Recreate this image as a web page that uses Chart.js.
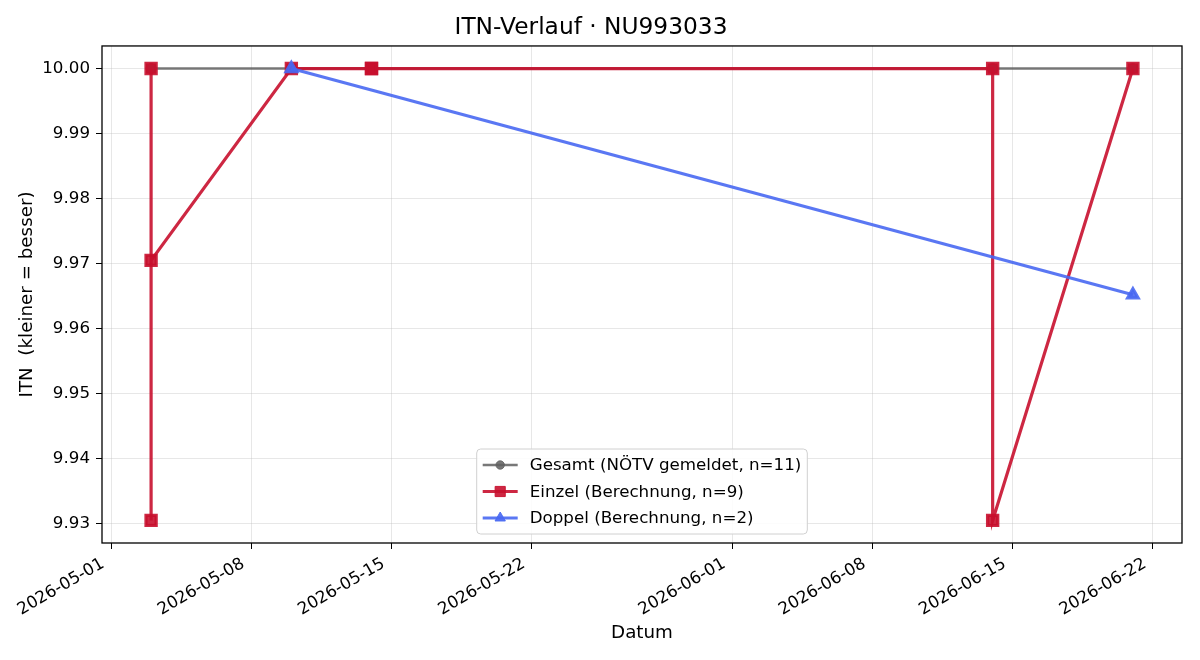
<!DOCTYPE html>
<html>
<head>
<meta charset="utf-8">
<script src="https://cdn.jsdelivr.net/npm/chart.js@4.4.1/dist/chart.umd.min.js"></script>
<style>
html,body{margin:0;padding:0;background:#fff}
</style>
</head>
<body>
<canvas id="itnChart" width="1200" height="660"></canvas>
<script>
// ===== Daten =====
const gesamtDates = ["2026-05-03","2026-05-03","2026-05-03","2026-05-10","2026-05-10","2026-05-14","2026-05-14","2026-06-14","2026-06-14","2026-06-21","2026-06-21"]
const gesamtITN   = [10.00,10.00,10.00,10.00,10.00,10.00,10.00,10.00,10.00,10.00,10.00]

const einzelDates = ["2026-05-03","2026-05-03","2026-05-03","2026-05-10","2026-05-14","2026-05-14","2026-06-14","2026-06-14","2026-06-21"]
const einzelITN   = [10.00,9.9305,9.9705,10.00,10.00,10.00,10.00,9.9305,10.00]

const doppelDates = ["2026-05-10","2026-06-21"]
const doppelITN   = [10.00,9.9652]

const xTickLabels = ["2026-05-01","2026-05-08","2026-05-15","2026-05-22","2026-06-01","2026-06-08","2026-06-15","2026-06-22"]
const yTicks = [9.93,9.94,9.95,9.96,9.97,9.98,9.99,10.00]

const labels = ["Gesamt (NÖTV gemeldet, n=11)","Einzel (Berechnung, n=9)","Doppel (Berechnung, n=2)"]

const FONT = "DejaVu Sans"

// Datum -> Tage
function day(s){
  return Date.UTC(+s.slice(0,4), +s.slice(5,7)-1, +s.slice(8,10)) / 864e5
}
function toPoints(dates, vals){
  return dates.map((d,i) => ({x: day(d), y: vals[i]}))
}

// Achsengrenzen mit 5% Rand (wie matplotlib)
let allX = [...gesamtDates, ...einzelDates, ...doppelDates].map(day)
let allY = [...gesamtITN, ...einzelITN, ...doppelITN]
let xMin = Math.min(...allX), xMax = Math.max(...allX)
let yMin = Math.min(...allY), yMax = Math.max(...allY)
let xPad = (xMax - xMin) * 0.05, yPad = (yMax - yMin) * 0.05

// ===== Rahmen + Legende im Plot =====
const frameLegend = {
  id: "frameLegend",
  afterDraw(chart){
    const ctx = chart.ctx, a = chart.chartArea
    ctx.save()
    ctx.strokeStyle = "#000"
    ctx.lineWidth = 1.3
    ctx.strokeRect(a.left, a.top, a.right - a.left, a.bottom - a.top)

    ctx.font = "16.7px '" + FONT + "'"
    let maxW = 0
    labels.forEach(t => { maxW = Math.max(maxW, ctx.measureText(t).width) })
    let rowH = 26.5
    let w = 6 + 35 + 12 + maxW + 6
    let h = 16 + rowH * (labels.length - 1) + 16
    let bx = (a.left + a.right) / 2 - w / 2
    let by = a.bottom - 9 - h

    ctx.beginPath()
    ctx.roundRect(bx, by, w, h, 4)
    ctx.fillStyle = "rgba(255,255,255,0.85)"
    ctx.fill()
    ctx.strokeStyle = "#d0d0d0"
    ctx.lineWidth = 1
    ctx.stroke()

    chart.data.datasets.forEach((ds, i) => {
      let cy = by + 16 + i * rowH
      let x0 = bx + 6, x1 = bx + 6 + 35
      ctx.beginPath()
      ctx.moveTo(x0, cy)
      ctx.lineTo(x1, cy)
      ctx.strokeStyle = ds.borderColor
      ctx.lineWidth = ds.borderWidth
      ctx.stroke()
      ctx.fillStyle = ds.pointBackgroundColor
      ctx.strokeStyle = ds.pointBorderColor
      ctx.lineWidth = 1
      Chart.helpers.drawPoint(ctx, {pointStyle: ds.pointStyle, radius: ds.pointRadius, rotation: 0, borderWidth: 1}, (x0 + x1) / 2, cy)
      ctx.fillStyle = "#000"
      ctx.textBaseline = "middle"
      ctx.textAlign = "left"
      ctx.fillText(labels[i], x1 + 12, cy + 1)
    })
    ctx.restore()
  }
}

// ===== CHART =====
let ctx = document.getElementById("itnChart")

let chart = new Chart(ctx, {
  type: "line",
  data: {
    datasets: [
      {
        label: labels[0],
        data: toPoints(gesamtDates, gesamtITN),
        borderColor: "rgba(96,96,96,0.85)",
        borderWidth: 2.4,
        pointStyle: "circle",
        pointRadius: 4.2,
        pointBackgroundColor: "rgba(96,96,96,0.85)",
        pointBorderColor: "rgba(96,96,96,0.85)",
        order: 3
      },
      {
        label: labels[1],
        data: toPoints(einzelDates, einzelITN),
        borderColor: "rgba(200,16,46,0.9)",
        borderWidth: 3.2,
        pointStyle: "rect",
        pointRadius: 7.2,
        pointBackgroundColor: "rgba(200,16,46,0.9)",
        pointBorderColor: "rgba(200,16,46,0.9)",
        order: 2
      },
      {
        label: labels[2],
        data: toPoints(doppelDates, doppelITN),
        borderColor: "rgba(72,104,242,0.9)",
        borderWidth: 3.2,
        pointStyle: "triangle",
        pointRadius: 6,
        pointBackgroundColor: "rgba(72,104,242,0.9)",
        pointBorderColor: "rgba(72,104,242,0.9)",
        order: 1
      }
    ]
  },
  options: {
    responsive: false,
    animation: false,
    layout: {padding: {left: 0, right: 18, top: 0, bottom: 0}},
    elements: {line: {tension: 0}, point: {borderWidth: 1}},
    plugins: {
      legend: {display: false},
      tooltip: {enabled: false},
      title: {
        display: true,
        text: "ITN-Verlauf · NU993033",
        color: "#000",
        font: {family: FONT, size: 23.3, weight: "normal"},
        padding: {top: 14, bottom: 4}
      }
    },
    scales: {
      x: {
        type: "linear",
        min: xMin - xPad,
        max: xMax + xPad,
        afterBuildTicks: ax => { ax.ticks = xTickLabels.map(s => ({value: day(s)})) },
        afterFit: ax => { ax.height = 117 },
        ticks: {
          autoSkip: false,
          minRotation: 30,
          maxRotation: 30,
          padding: 5,
          labelOffset: -8,
          color: "#000",
          font: {family: FONT, size: 16.7},
          callback: v => new Date(v * 864e5).toISOString().slice(0, 10)
        },
        grid: {color: "rgba(176,176,176,0.3)", lineWidth: 1, tickColor: "#000", tickLength: 6},
        border: {display: false},
        title: {
          display: true,
          text: "Datum",
          color: "#000",
          font: {family: FONT, size: 18.3},
          padding: {top: 0, bottom: 16}
        }
      },
      y: {
        min: yMin - yPad,
        max: yMax + yPad,
        afterBuildTicks: ax => { ax.ticks = yTicks.map(v => ({value: v})) },
        afterFit: ax => { ax.width = 102 },
        ticks: {
          padding: 6,
          color: "#000",
          font: {family: FONT, size: 16.7},
          callback: v => v.toFixed(2)
        },
        grid: {color: "rgba(176,176,176,0.3)", lineWidth: 1, tickColor: "#000", tickLength: 6},
        border: {display: false},
        title: {
          display: true,
          text: "ITN  (kleiner = besser)",
          color: "#000",
          font: {family: FONT, size: 18.3},
          padding: {top: 16, bottom: 0}
        }
      }
    }
  },
  plugins: [frameLegend]
})
</script>
</body>
</html>
